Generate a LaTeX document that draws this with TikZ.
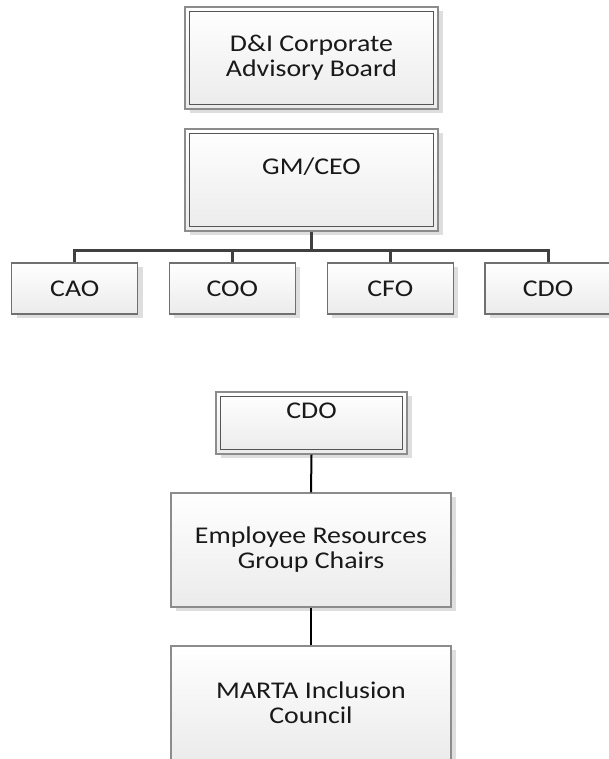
\documentclass[tikz,border=0pt]{standalone}
\usepackage{fontspec}
\setmainfont{Carlito}[FakeStretch=1.16]
\usetikzlibrary{shadows}
\definecolor{outerc}{HTML}{8C8C8C}
\definecolor{innerc}{HTML}{555555}
\definecolor{boxc}{HTML}{707070}
\definecolor{busc}{HTML}{404040}
\definecolor{shadowc}{HTML}{DEDEDE}
\definecolor{fillbot}{HTML}{EBEBEB}
\newcommand\boxfont{\fontsize{24}{25}\selectfont}
\begin{document}
\begin{tikzpicture}[x=1pt,y=-1pt,
  base/.style={rectangle, inner sep=0pt, top color=white, bottom color=fillbot,
    font=\boxfont, align=center, text=black!90, line width=1.3pt,
    drop shadow={shadow xshift=5pt, shadow yshift=-4pt, fill=shadowc, opacity=1}},
  dbox/.style={base, draw=outerc},
  sbox/.style={base, draw=boxc, minimum width=126pt, minimum height=51pt},
  gbox/.style={base, draw=outerc, minimum width=280pt, minimum height=114pt},
  innerline/.style={draw=innerc, line width=1.3pt},
  busline/.style={draw=busc, line width=3pt},
  link/.style={draw=black, line width=2pt},
  lbl/.style={font=\boxfont, text=black!90, inner sep=0pt}]
\useasboundingbox (0,0) rectangle (609,759);
\fill[white] (0,0) rectangle (609,759);

% top part
\node[dbox, minimum width=253pt, minimum height=102pt] (dib) at (311.5,58)
  {D\&I Corporate\\Advisory Board};
\draw[innerline] ([shift={(5,5)}]dib.north west) rectangle ([shift={(-5,-5)}]dib.south east);

\node[dbox, minimum width=253pt, minimum height=102pt] (gm) at (311.5,180) {};
\draw[innerline] ([shift={(5,5)}]gm.north west) rectangle ([shift={(-5,-5)}]gm.south east);
\node[lbl] (gmt) at (311.5,167) {GM/CEO};

\node[sbox] (cao) at (74.7,288.5) {CAO};
\node[sbox] (coo) at (232.3,288.5) {COO};
\node[sbox] (cfo) at (390.3,288.5) {CFO};
\node[sbox] (cdo) at (548,288.5) {CDO};

\coordinate (busy) at (0,250);
\draw[busline] (gm.south) -- (gm.south |- busy);
\draw[busline] (cao.north) |- (cdo.north |- busy) -- (cdo.north);
\draw[busline] (coo.north) -- (coo.north |- busy);
\draw[busline] (cfo.north) -- (cfo.north |- busy);

% bottom part
\node[dbox, minimum width=191pt, minimum height=62pt] (cdob) at (311.5,423) {};
\draw[innerline] ([shift={(5,5)}]cdob.north west) rectangle ([shift={(-5,-5)}]cdob.south east);
\node[lbl] (cdobt) at (311.5,411) {CDO};

\node[gbox] (erg) at (311,550) {Employee Resources\\Group Chairs};
\node[gbox] (mic) at (311,703) {MARTA Inclusion\\Council};

\draw[link] (cdob.south) -- (erg.north);
\draw[link] (erg.south) -- (mic.north);
\end{tikzpicture}
\end{document}
